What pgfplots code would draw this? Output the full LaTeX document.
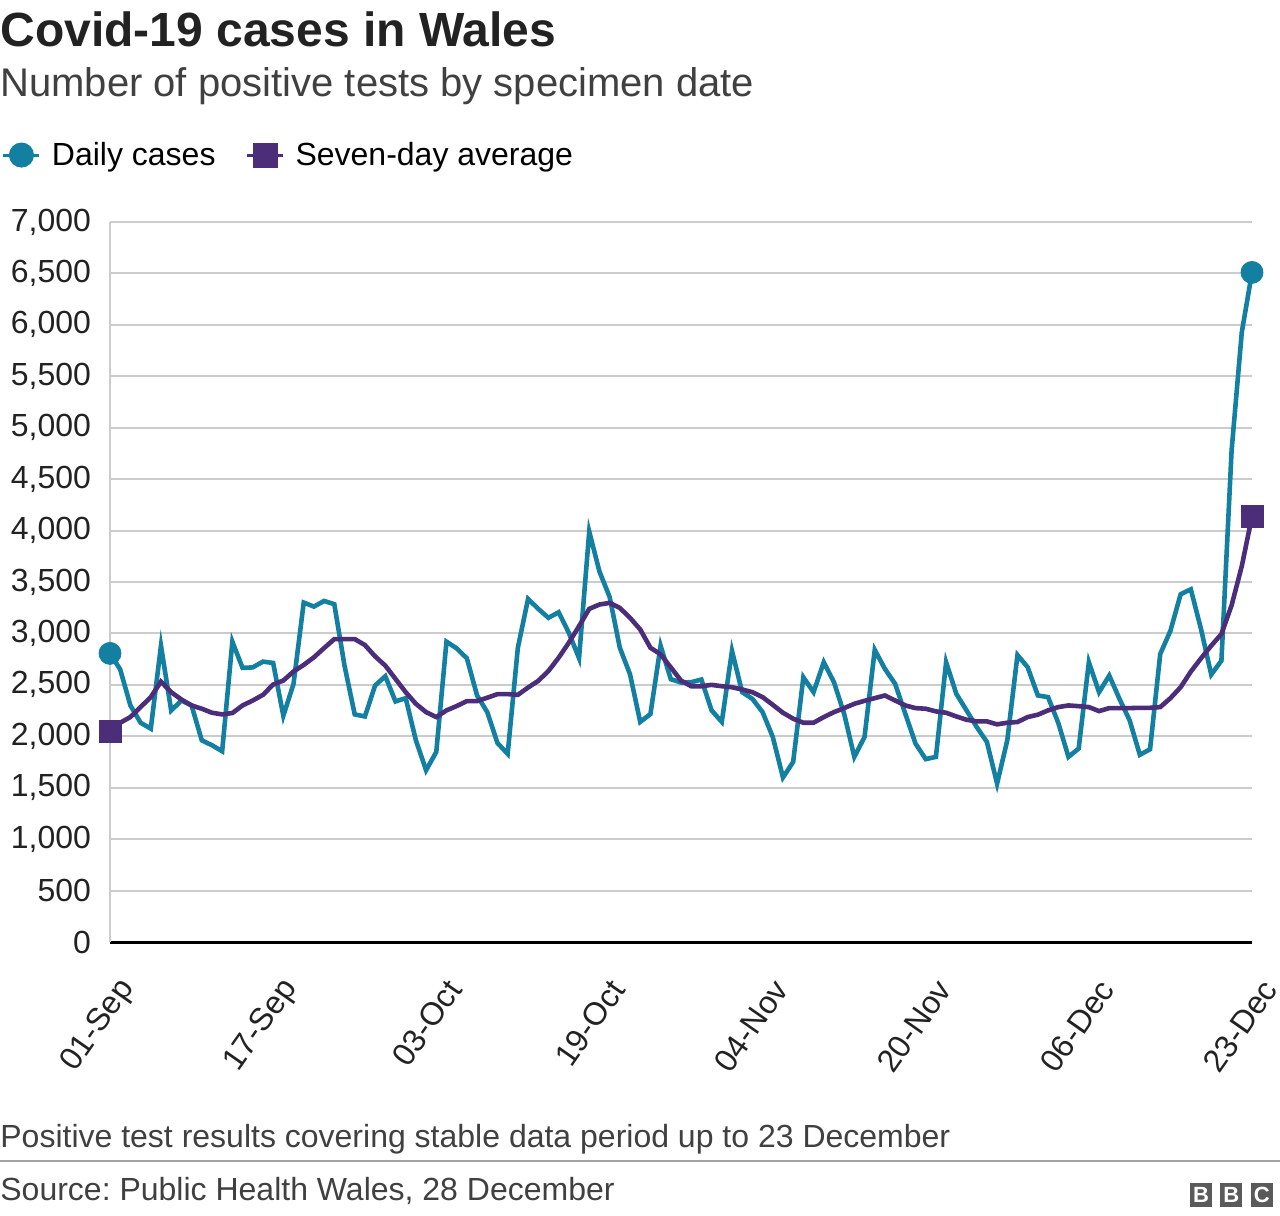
\documentclass[border=0pt]{standalone}
\usepackage{pgfplots}
\usepackage{pgfplotstable}
\pgfplotsset{compat=1.18}
\usepackage{fontspec}
\setmainfont{Liberation Sans}
\setsansfont{Liberation Sans}
\definecolor{teal1}{HTML}{1380A1}
\definecolor{purp}{HTML}{4B2D79}
\definecolor{gridc}{HTML}{CCCCCC}
\definecolor{subg}{HTML}{404040}
\definecolor{bbcg}{HTML}{5A5A5A}
\definecolor{txt}{HTML}{222222}

\pgfplotstableread{
d cases avg
0 2806 2050
1 2650 2132
2 2300 2187
3 2132 2284
4 2074 2381
5 2880 2532
6 2251 2429
7 2348 2358
8 2300 2300
9 1961 2268
10 1913 2229
11 1855 2213
12 2920 2226
13 2665 2300
14 2670 2348
15 2726 2403
16 2713 2503
17 2200 2542
18 2510 2630
19 3300 2694
20 3261 2768
21 3316 2858
22 3284 2945
23 2687 2945
24 2213 2945
25 2193 2887
26 2494 2777
27 2584 2687
28 2339 2558
29 2371 2429
30 1961 2316
31 1670 2235
32 1848 2187
33 2920 2252
34 2855 2294
35 2758 2342
36 2397 2342
37 2235 2375
38 1935 2410
39 1829 2410
40 2861 2403
41 3335 2474
42 3239 2539
43 3152 2635
44 3206 2764
45 3006 2910
46 2760 3071
47 3990 3239
48 3603 3281
49 3355 3297
50 2861 3248
51 2603 3152
52 2140 3039
53 2216 2861
54 2880 2797
55 2555 2670
56 2523 2542
57 2526 2487
58 2552 2487
59 2252 2500
60 2140 2487
61 2830 2477
62 2429 2455
63 2364 2429
64 2235 2381
65 1994 2306
66 1600 2229
67 1751 2171
68 2574 2132
69 2429 2132
70 2720 2187
71 2526 2235
72 2219 2274
73 1800 2316
74 1994 2345
75 2840 2371
76 2655 2397
77 2510 2348
78 2219 2300
79 1929 2274
80 1778 2268
81 1800 2242
82 2720 2229
83 2413 2193
84 2252 2161
85 2090 2145
86 1945 2145
87 1540 2116
88 1961 2132
89 2790 2139
90 2671 2187
91 2397 2210
92 2381 2252
93 2130 2284
94 1800 2300
95 1881 2293
96 2720 2284
97 2429 2245
98 2590 2274
99 2364 2274
100 2155 2274
101 1820 2277
102 1874 2277
103 2800 2284
104 3026 2371
105 3381 2477
106 3429 2629
107 3042 2758
108 2600 2881
109 2735 2994
110 4780 3274
111 5930 3655
112 6510 4139
}\datatable

\begin{document}
\frenchspacing
\begin{tikzpicture}
\path[use as bounding box] (0,0) rectangle (640bp,-608bp);
\node[anchor=base west, inner sep=0, text=txt, font=\fontsize{24bp}{28bp}\selectfont\bfseries] at (0bp,-23bp) {Covid-19 cases in Wales};
\node[anchor=base west, inner sep=0, text=subg, font=\fontsize{20bp}{24bp}\selectfont] at (0bp,-48bp) {Number of positive tests by specimen date};

\begin{axis}[
  at={(55bp,-471bp)}, anchor=south west,
  scale only axis, width=571bp, height=360bp,
  xmin=0, xmax=112, ymin=0, ymax=7000,
  enlargelimits=false, clip=false,
  axis x line=bottom, axis y line=left,
  x axis line style={-, black, line width=1.5bp},
  y axis line style={-, gridc, line width=1bp},
  major tick length=0pt,
  ytick={0,500,...,7000},
  xtick={0,16,32,48,64,80,96,112},
  xticklabels={01-Sep,17-Sep,03-Oct,19-Oct,04-Nov,20-Nov,06-Dec,23-Dec},
  ymajorgrids, grid style={gridc, line width=1bp},
  tick label style={font=\fontsize{16bp}{16bp}\selectfont, text=txt},
  /pgf/number format/assume math mode=true,
  /pgf/number format/1000 sep={,},
  yticklabel style={anchor=east, xshift=-6bp},
  xticklabel style={xshift=11bp, yshift=-18bp, rotate=55, anchor=east},
  legend style={at={(-0.0946,1.093)}, anchor=west, draw=none, fill=none,
    inner sep=0pt, outer sep=0pt, legend columns=2,
    font=\fontsize{16bp}{16bp}\selectfont,
    nodes={inner sep=0pt, outer sep=0pt},
    /tikz/every odd column/.append style={column sep=5.5bp},
    /tikz/every even column/.append style={column sep=15bp}},
  legend image code/.code={\draw[mark repeat=2,mark phase=2,#1] plot coordinates {(0bp,0bp) (9bp,0bp) (18bp,0bp)};},
]
\addplot[teal1, line width=2.3bp, no marks, forget plot] table[x=d, y=cases] {\datatable};
\addplot[purp, line width=2.3bp, no marks, forget plot] table[x=d, y=avg] {\datatable};
\addplot[only marks, mark=*, teal1, mark size=5.5bp, forget plot] coordinates {(0,2806) (112,6510)};
\addplot[only marks, mark=square*, purp, mark size=5.5bp, forget plot] coordinates {(0,2050) (112,4139)};
\addlegendimage{teal1, line width=1.5bp, mark=*, mark size=5.5bp, mark options={solid}}
\addlegendentry{Daily cases}
\addlegendimage{purp, line width=1.5bp, mark=square*, mark size=5.5bp}
\addlegendentry{Seven-day average}
\end{axis}

\node[anchor=base west, inner sep=0, text=subg, font=\fontsize{16bp}{20bp}\selectfont] at (0bp,-573.5bp) {Positive test results covering stable data period up to 23 December};
\draw[color=gridc!80!black, line width=1bp] (0bp,-580.5bp) -- (640bp,-580.5bp);
\node[anchor=base west, inner sep=0, text=subg, font=\fontsize{16bp}{20bp}\selectfont] at (0bp,-600bp) {Source: Public Health Wales, 28 December};
\foreach \i/\l in {0/B,1/B,2/C}{
  \fill[bbcg] (595bp+\i*15.2bp,-591.5bp) rectangle ++(11bp,-11.8bp);
  \node[text=white, font=\fontsize{11bp}{11bp}\selectfont\bfseries, inner sep=0] at (600.5bp+\i*15.2bp,-597.4bp) {\l};
}
\end{tikzpicture}
\end{document}
